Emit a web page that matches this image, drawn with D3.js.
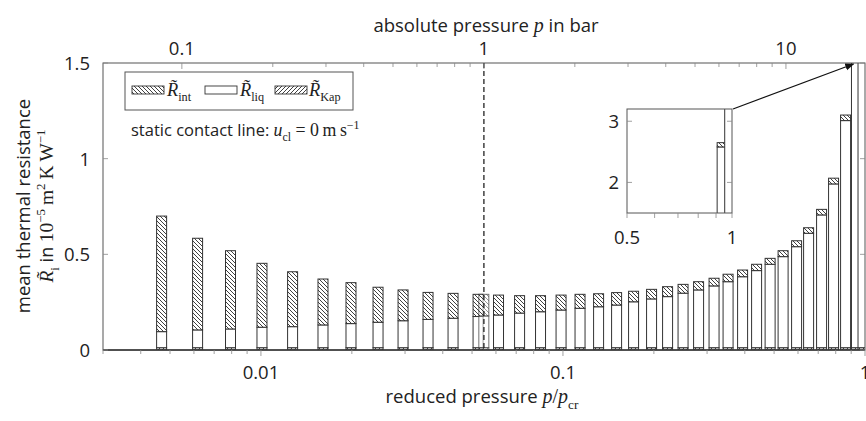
<!DOCTYPE html>
<html><head><meta charset="utf-8">
<script src="https://cdn.jsdelivr.net/npm/d3@7"></script>
<style>body{margin:0;background:#fff} svg{display:block}</style>
</head><body>
<svg id="c" width="866" height="421"></svg>
<script>
// ---------------- data ----------------
const reducedPressure = [0.00469, 0.00617, 0.00793, 0.01008, 0.01273, 0.01605, 0.01987, 0.02442, 0.02955, 0.03575,
  0.04326, 0.05235, 0.06118, 0.07184, 0.08428, 0.09856, 0.1139, 0.1312, 0.1505, 0.1713,
  0.1965, 0.2220, 0.2498, 0.2812, 0.3164, 0.3521, 0.3933, 0.4376, 0.4851, 0.5356,
  0.5936, 0.6505, 0.7182, 0.7869, 0.8624, 0.937, 0.985];
const R_int = [0.604, 0.479, 0.409, 0.334, 0.287, 0.240, 0.214, 0.183, 0.161, 0.141,
  0.130, 0.116, 0.104, 0.091, 0.084, 0.078, 0.073, 0.068, 0.065, 0.055,
  0.050, 0.052, 0.046, 0.043, 0.040, 0.039, 0.035, 0.033, 0.031, 0.031,
  0.031, 0.029, 0.029, 0.030, 0.029, 0.070, 0.100];
const R_liq = [0.084, 0.093, 0.098, 0.107, 0.110, 0.119, 0.126, 0.133, 0.141, 0.148,
  0.154, 0.163, 0.171, 0.181, 0.188, 0.197, 0.206, 0.214, 0.223, 0.240,
  0.255, 0.267, 0.285, 0.302, 0.323, 0.345, 0.371, 0.403, 0.436, 0.476,
  0.528, 0.598, 0.694, 0.856, 1.187, 2.568, 3.900];
const R_Kap = [0.012, 0.012, 0.012, 0.012, 0.012, 0.012, 0.012, 0.012, 0.012, 0.012,
  0.012, 0.012, 0.012, 0.012, 0.012, 0.012, 0.012, 0.012, 0.012, 0.012,
  0.012, 0.012, 0.012, 0.012, 0.012, 0.012, 0.012, 0.012, 0.012, 0.012,
  0.012, 0.012, 0.012, 0.012, 0.012, 0.012, 0.012];
// extra bar at p = 1 bar
const refPressure = [0.0547];
const refR_int = [0.113];
const refR_liq = [0.166];
const refR_Kap = [0.012];

const pCrit = 18.27;               // bar
const bottomTickLabels = [0.01, 0.1, 1];
const topTickLabels = [0.1, 1, 10];
const yTickValues = [0, 0.5, 1, 1.5];
const insetXTickLabels = [0.5, 1];
const insetYTickValues = [2, 3];
const dashedAtBar = 1;             // absolute pressure of dashed line

// ---------------- setup ----------------
const svg = d3.select('#c');
const SANS = "'Open Sans', 'Noto Sans', sans-serif";
const SERIF = "'Liberation Serif', 'DejaVu Serif', serif";
const TXT = '#222';
const EDGE = '#333';
const FS = 18.5;   // tick label size

const L = 103, R = 865, T = 63, B = 350;
const x = d3.scaleLog().domain([0.003, 1]).range([L, R]);
const xTop = d3.scaleLog().domain([0.003 * pCrit, pCrit]).range([L, R]);
const y = d3.scaleLinear().domain([0, 1.5]).range([B, T]);

const defs = svg.append('defs');
function hatch(id, d) {
  const p = defs.append('pattern').attr('id', id).attr('patternUnits', 'userSpaceOnUse')
    .attr('width', 4).attr('height', 4);
  p.append('rect').attr('width', 4).attr('height', 4).attr('fill', '#fff');
  p.append('path').attr('d', d).attr('stroke', '#2a2a2a').attr('stroke-width', 0.9).attr('fill', 'none');
}
hatch('nwl', 'M-1,-1 L5,5 M3,-1 L5,1 M-1,3 L1,5');
hatch('nel', 'M-1,5 L5,-1 M-1,1 L1,-1 M3,5 L5,3');
defs.append('clipPath').attr('id', 'clipMain').append('rect')
  .attr('x', L).attr('y', T).attr('width', R - L).attr('height', B - T);

const fills = {Kap: 'url(#nel)', liq: '#fff', int: 'url(#nwl)'};
const keys = ['Kap', 'liq', 'int'];

const rows = reducedPressure.map((p, i) => ({p, Kap: R_Kap[i], liq: R_liq[i], int: R_int[i]}));
const refRows = refPressure.map((p, i) => ({p, Kap: refR_Kap[i], liq: refR_liq[i], int: refR_int[i]}));
const stack = d3.stack().keys(keys);
const BW = 10;

function drawBars(g, data, xs, ys, opacity) {
  const series = stack(data);
  data.forEach((d, i) => {
    series.forEach(s => {
      const seg = s[i];
      g.append('rect')
        .attr('x', xs(d.p) - BW / 2).attr('width', BW)
        .attr('y', ys(seg[1])).attr('height', Math.max(0, ys(seg[0]) - ys(seg[1])))
        .attr('fill', fills[s.key]).attr('fill-opacity', opacity)
        .attr('stroke', EDGE).attr('stroke-width', 1).attr('stroke-opacity', opacity < 1 ? 0.7 : 1);
    });
  });
}

// ---------------- main bars ----------------
const gBars = svg.append('g').attr('clip-path', 'url(#clipMain)');
drawBars(gBars, rows.slice(0, 12), x, y, 1);
drawBars(gBars, refRows, x, y, 0.55);
drawBars(gBars, rows.slice(12), x, y, 1);

// frame
svg.append('rect').attr('x', L).attr('y', T).attr('width', R - L).attr('height', B - T)
  .attr('fill', 'none').attr('stroke', '#555').attr('stroke-width', 1);
svg.append('line').attr('x1', L).attr('x2', R).attr('y1', B).attr('y2', B)
  .attr('stroke', '#333').attr('stroke-width', 1.3);

// dashed line at 1 bar
svg.append('line').attr('x1', xTop(dashedAtBar)).attr('x2', xTop(dashedAtBar))
  .attr('y1', T).attr('y2', B).attr('stroke', '#111').attr('stroke-width', 1.2)
  .attr('stroke-dasharray', '5,3');

// ---------------- axes ----------------
// bottom axis
const minorBottom = [];
[0.001, 0.01, 0.1].forEach(dec => { for (let k = 1; k <= 9; k++) minorBottom.push(dec * k); });
minorBottom.push(1);
const gB = svg.append('g');
minorBottom.filter(v => v >= 0.003 && v <= 1.0001).forEach(v => {
  const major = bottomTickLabels.some(t => Math.abs(t - v) < 1e-9);
  gB.append('line').attr('x1', x(v)).attr('x2', x(v)).attr('y1', B).attr('y2', B + (major ? 6 : 4))
    .attr('stroke', '#888').attr('stroke-width', 0.8);
});
bottomTickLabels.forEach(v => {
  gB.append('text').attr('x', x(v)).attr('y', 379).attr('text-anchor', 'middle')
    .attr('font-family', SANS).attr('font-size', FS).attr('fill', TXT).text(String(v));
});

// top axis
const gT = svg.append('g');
const topMinor = [];
[0.1, 1, 10].forEach(dec => { for (let k = 1; k <= 9; k++) topMinor.push(dec * k); });
topMinor.filter(v => v <= pCrit).forEach(v => {
  const major = topTickLabels.some(t => Math.abs(t - v) < 1e-9);
  gT.append('line').attr('x1', xTop(v)).attr('x2', xTop(v)).attr('y1', T).attr('y2', T + (major ? 6 : 4))
    .attr('stroke', '#888').attr('stroke-width', 0.8);
});
topTickLabels.forEach(v => {
  gT.append('text').attr('x', xTop(v)).attr('y', 55).attr('text-anchor', 'middle')
    .attr('font-family', SANS).attr('font-size', FS).attr('fill', TXT).text(String(v));
});

// y axis
const gY = svg.append('g');
yTickValues.forEach(v => {
  gY.append('line').attr('x1', L).attr('x2', L + 5).attr('y1', y(v)).attr('y2', y(v))
    .attr('stroke', '#888').attr('stroke-width', 0.8);
  gY.append('line').attr('x1', R - 5).attr('x2', R).attr('y1', y(v)).attr('y2', y(v))
    .attr('stroke', '#888').attr('stroke-width', 0.8);
  gY.append('text').attr('x', 90).attr('y', y(v) + 7).attr('text-anchor', 'end')
    .attr('font-family', SANS).attr('font-size', FS).attr('fill', TXT).text(String(v));
});

// ---------------- rich text helper ----------------
function rich(t, parts, size) {
  let shift = 0;
  parts.forEach(p => {
    const ts = t.append('tspan').text(p.t);
    const target = p.sub ? size * 0.32 : p.sup ? -size * 0.42 : 0;
    const dy = target - shift; shift = target;
    if (dy) ts.attr('dy', dy);
    const fs = (p.sub || p.sup) ? size * 0.72 : size * (p.f === 'it' || p.f === 'rm' ? 1.08 : 1);
    ts.attr('font-size', fs);
    if (p.f === 'it') ts.attr('font-family', SERIF).attr('font-style', 'italic');
    else if (p.f === 'rm') ts.attr('font-family', SERIF);
    else ts.attr('font-family', SANS);
  });
}

// axis titles
rich(svg.append('text').attr('x', 482).attr('y', 403).attr('text-anchor', 'middle').attr('fill', TXT),
  [{t: 'reduced pressure '}, {t: 'p', f: 'it'}, {t: '/', f: 'rm'}, {t: 'p', f: 'it'}, {t: 'cr', f: 'rm', sub: true}], 18.5);
rich(svg.append('text').attr('x', 486).attr('y', 32).attr('text-anchor', 'middle').attr('fill', TXT),
  [{t: 'absolute pressure '}, {t: 'p', f: 'it'}, {t: ' in bar'}], 18.5);
rich(svg.append('text').attr('transform', 'translate(30,206) rotate(-90)').attr('text-anchor', 'middle').attr('fill', TXT),
  [{t: 'mean thermal resistance'}], 18.5);
rich(svg.append('text').attr('transform', 'translate(53,206) rotate(-90)').attr('text-anchor', 'middle').attr('fill', TXT),
  [{t: 'R\u0303', f: 'it'}, {t: 'i', f: 'rm', sub: true}, {t: ' in '}, {t: '10', f: 'rm'}, {t: '\u22125', f: 'rm', sup: true},
   {t: '\u2009m', f: 'rm'}, {t: '2', f: 'rm', sup: true}, {t: '\u2009K\u2009W', f: 'rm'}, {t: '\u22121', f: 'rm', sup: true}], 18);

// ---------------- legend ----------------
const gL = svg.append('g');
gL.append('rect').attr('x', 125).attr('y', 72).attr('width', 228).attr('height', 38)
  .attr('fill', '#fff').attr('stroke', '#555').attr('stroke-width', 1);
const legendItems = [
  {key: 'int', sx: 132, tx: 167, sub: 'int'},
  {key: 'liq', sx: 205, tx: 240, sub: 'liq'},
  {key: 'Kap', sx: 275, tx: 309, sub: 'Kap'}
];
legendItems.forEach(it => {
  gL.append('rect').attr('x', it.sx).attr('y', 86).attr('width', 32).attr('height', 8)
    .attr('fill', fills[it.key]).attr('stroke', EDGE).attr('stroke-width', 0.9);
  rich(gL.append('text').attr('x', it.tx).attr('y', 96).attr('fill', TXT),
    [{t: 'R\u0303', f: 'it'}, {t: it.sub, f: 'rm', sub: true}], 17);
});
rich(svg.append('text').attr('x', 131).attr('y', 136).attr('fill', TXT),
  [{t: 'static contact line: '}, {t: 'u', f: 'it'}, {t: 'cl', f: 'rm', sub: true}, {t: ' = 0\u2009m\u2009s', f: 'rm'},
   {t: '\u22121', f: 'rm', sup: true}], 16.5);

// ---------------- inset ----------------
const IL = 627, IR = 732, IT = 109, IB = 213;
const xi = d3.scaleLog().domain([0.5, 1]).range([IL, IR]);
const yi = d3.scaleLinear().domain([1.5, 3.2]).range([IB, IT]);
defs.append('clipPath').attr('id', 'clipInset').append('rect')
  .attr('x', IL).attr('y', IT).attr('width', IR - IL).attr('height', IB - IT);
const gI = svg.append('g');
gI.append('rect').attr('x', IL).attr('y', IT).attr('width', IR - IL).attr('height', IB - IT)
  .attr('fill', '#fff');
drawBars(gI.append('g').attr('clip-path', 'url(#clipInset)'), rows.filter(d => d.p >= 0.5), xi, yi, 1);
gI.append('rect').attr('x', IL).attr('y', IT).attr('width', IR - IL).attr('height', IB - IT)
  .attr('fill', 'none').attr('stroke', '#555').attr('stroke-width', 1);
[0.5, 0.6, 0.7, 0.8, 0.9, 1].forEach(v => {
  gI.append('line').attr('x1', xi(v)).attr('x2', xi(v)).attr('y1', IB).attr('y2', IB + 5)
    .attr('stroke', '#888').attr('stroke-width', 0.8);
});
insetXTickLabels.forEach(v => {
  gI.append('text').attr('x', xi(v)).attr('y', 244).attr('text-anchor', 'middle')
    .attr('font-family', SANS).attr('font-size', FS).attr('fill', TXT).text(String(v));
});
insetYTickValues.forEach(v => {
  gI.append('line').attr('x1', IL).attr('x2', IL + 5).attr('y1', yi(v)).attr('y2', yi(v))
    .attr('stroke', '#888').attr('stroke-width', 0.8);
  gI.append('line').attr('x1', IR - 5).attr('x2', IR).attr('y1', yi(v)).attr('y2', yi(v))
    .attr('stroke', '#888').attr('stroke-width', 0.8);
  gI.append('text').attr('x', 619).attr('y', yi(v) + 7).attr('text-anchor', 'end')
    .attr('font-family', SANS).attr('font-size', FS).attr('fill', TXT).text(String(v));
});

// arrow from inset to clipped bar
defs.append('marker').attr('id', 'arr').attr('viewBox', '0 0 10 10').attr('refX', 9).attr('refY', 5)
  .attr('markerWidth', 7).attr('markerHeight', 7).attr('orient', 'auto')
  .append('path').attr('d', 'M0,1 L10,5 L0,9 z').attr('fill', '#111');
const target = rows[35];
svg.append('line').attr('x1', IR + 1).attr('y1', IT).attr('x2', x(target.p) - 3).attr('y2', T + 1)
  .attr('stroke', '#111').attr('stroke-width', 1.3).attr('marker-end', 'url(#arr)');
</script>
</body></html>
